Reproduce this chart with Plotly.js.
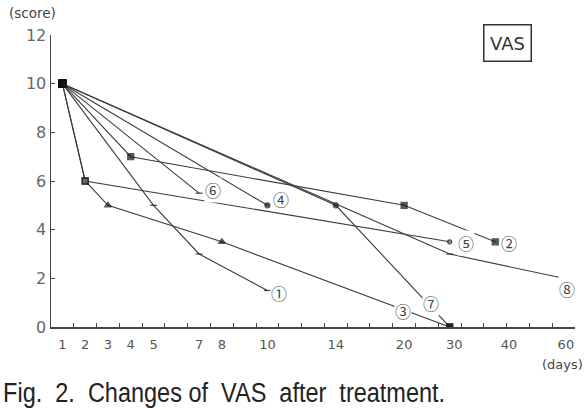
<!DOCTYPE html>
<html><head><meta charset="utf-8">
<script src="https://cdn.plot.ly/plotly-3.0.1.min.js"></script>
<style>body{margin:0;background:#fff}#c{width:586px;height:410px}</style>
</head><body><div id="c"></div>
<script>
// tick labels (days) and their slot on the category-like axis
const dayTicks = ['1','2','3','4','5','7','8','10','14','20','30','40','60'];
const dayTickPos = [0,1,2,3,4,6,7,9,12,15,17.2,19.6,22.1];
const slotOfDay = {1:0,2:1,3:2,4:3,5:4,6:5,7:6,8:7,9:8,10:9,14:12,20:15,30:17,40:19,60:22};
const yTicks = [0,2,4,6,8,10,12];

// series (days, VAS score)
const s1Days = [1,5,7,10],    s1Score = [10,5,3,1.5];
const s2Days = [1,4,20,40],   s2Score = [10,7,5,3.5];
const s3Days = [1,2,3,8,30],  s3Score = [10,6,5,3.5,0];
const s4Days = [1,10],        s4Score = [10,5];
const s5Days = [1,2,30],      s5Score = [10,6,3.5];
const s6Days = [1,7],         s6Score = [10,5.5];
const s7Days = [1,14,30],     s7Score = [10,5,0];
const s8Days = [1,30,60],     s8Score = [10,3,2];
const seriesNames = ['①','②','③','④','⑤','⑥','⑦','⑧'];
// label positions (slot units, score units)
const labelX = [9.51,19.61,14.95,9.58,17.70,6.60,16.18,22.14];
const labelY = [1.39,3.46,0.65,5.25,3.46,5.61,0.98,1.55];

const series = [
  [s1Days,s1Score,['square','line-ew','line-ew','line-ew'],[7,5,5,5]],
  [s2Days,s2Score,['square','square','square','square'],[7,6,6,6]],
  [s3Days,s3Score,['square','square','triangle-up','triangle-up','square'],[7,6,6,6,6]],
  [s4Days,s4Score,['square','circle'],[7,5]],
  [s5Days,s5Score,['square','square','circle'],[7,6,4]],
  [s6Days,s6Score,['square','line-ew'],[7,5]],
  [s7Days,s7Score,['square','circle','square'],[7,5,6]],
  [s8Days,s8Score,['square','line-ew','line-ew'],[7,5,5]]
];
const lineCol = '#3c3c3c';
const traces = series.map((s,i)=>({
  type:'scatter', mode:'lines+markers', name:seriesNames[i],
  x:s[0].map(d=>slotOfDay[d]), y:s[1],
  line:{color:lineCol,width:1.1},
  marker:{symbol:s[2],size:s[3],color:(i===4?'#777':'#111'),line:{color:'#111',width:1.3}},
  showlegend:false, hoverinfo:'skip', xaxis:'x', yaxis:'y'
}));
// invisible trace to carry label axis
traces.push({type:'scatter',mode:'markers',x:[0],y:[0],marker:{opacity:0},xaxis:'x2',yaxis:'y',showlegend:false,hoverinfo:'skip'});

const boundaries = [];
for(let k=-0.5;k<=22.5;k+=1) boundaries.push(k);

const ann = seriesNames.map((n,i)=>({
  xref:'x', yref:'y', x:labelX[i], y:labelY[i], text:n, showarrow:false,
  xanchor:'center', yanchor:'middle',
  font:{family:'Noto Sans CJK JP, DejaVu Sans',size:16,color:'#444'},
  bgcolor:'#fff', borderpad:0
}));
const px2x = p=>(p-51)/524, px2y = p=>(327-p)/292;
ann.push({xref:'paper',yref:'paper',x:px2x(32),y:px2y(13),xanchor:'center',yanchor:'middle',text:'(score)',showarrow:false,
  font:{family:'DejaVu Sans',size:13.5,color:'#444'}});
ann.push({xref:'paper',yref:'paper',x:px2x(562),y:px2y(364),xanchor:'center',yanchor:'middle',text:'(days)',showarrow:false,
  font:{family:'DejaVu Sans',size:13,color:'#444'}});
ann.push({xref:'paper',yref:'paper',x:px2x(507.5),y:px2y(43),xanchor:'center',yanchor:'middle',text:'VAS',showarrow:false,
  width:46,height:35,bordercolor:'#333',borderwidth:1.5,borderpad:0,bgcolor:'#fff',
  font:{family:'DejaVu Sans',size:18,color:'#333'}});
ann.push({xref:'paper',yref:'paper',x:px2x(1),xanchor:'left',y:px2y(393),yanchor:'middle',
  text:'Fig.\u00a0\u00a02.\u00a0\u00a0Changes\u00a0of\u00a0\u00a0VAS\u00a0\u00a0after\u00a0\u00a0treatment.',showarrow:false,
  font:{family:'Liberation Sans',size:27,color:'#222'}});

const layout = {
  width:586, height:410, margin:{l:51,r:11,t:35,b:83},
  paper_bgcolor:'#fff', plot_bgcolor:'#fff',
  xaxis:{range:[-0.5,22.5],tickmode:'array',tickvals:boundaries,ticktext:boundaries.map(()=>''),
    ticks:'inside',ticklen:4,tickcolor:'#444',tickwidth:1,showline:true,linecolor:'#444',linewidth:1.5,
    showgrid:false,zeroline:false,fixedrange:true},
  xaxis2:{range:[-0.5,22.5],overlaying:'x',anchor:'y',side:'bottom',tickmode:'array',tickvals:dayTickPos,ticktext:dayTicks,
    ticks:'',showline:false,showgrid:false,zeroline:false,ticklabelstandoff:8,
    tickfont:{family:'DejaVu Sans',size:13,color:'#555'}},
  yaxis:{range:[0,12],tickmode:'array',tickvals:yTicks,ticktext:yTicks.map(String),
    ticks:'inside',ticklen:4,tickcolor:'#444',showline:true,linecolor:'#444',linewidth:1.5,
    showgrid:false,zeroline:false,tickfont:{family:'DejaVu Sans',size:16,color:'#666'},ticklabelstandoff:0},
  annotations:ann
};
Plotly.newPlot('c',traces,layout,{staticPlot:true}).then(gd=>{
  const anns = gd.querySelectorAll('.annotation');
  const cap = anns[anns.length-1].querySelector('text.annotation-text');
  if(cap){
    const bb = cap.getBBox();
    cap.setAttribute('transform','translate('+bb.x+',0) scale(0.87,1) translate('+(-bb.x)+',0)');
  }
});
</script></body></html>
